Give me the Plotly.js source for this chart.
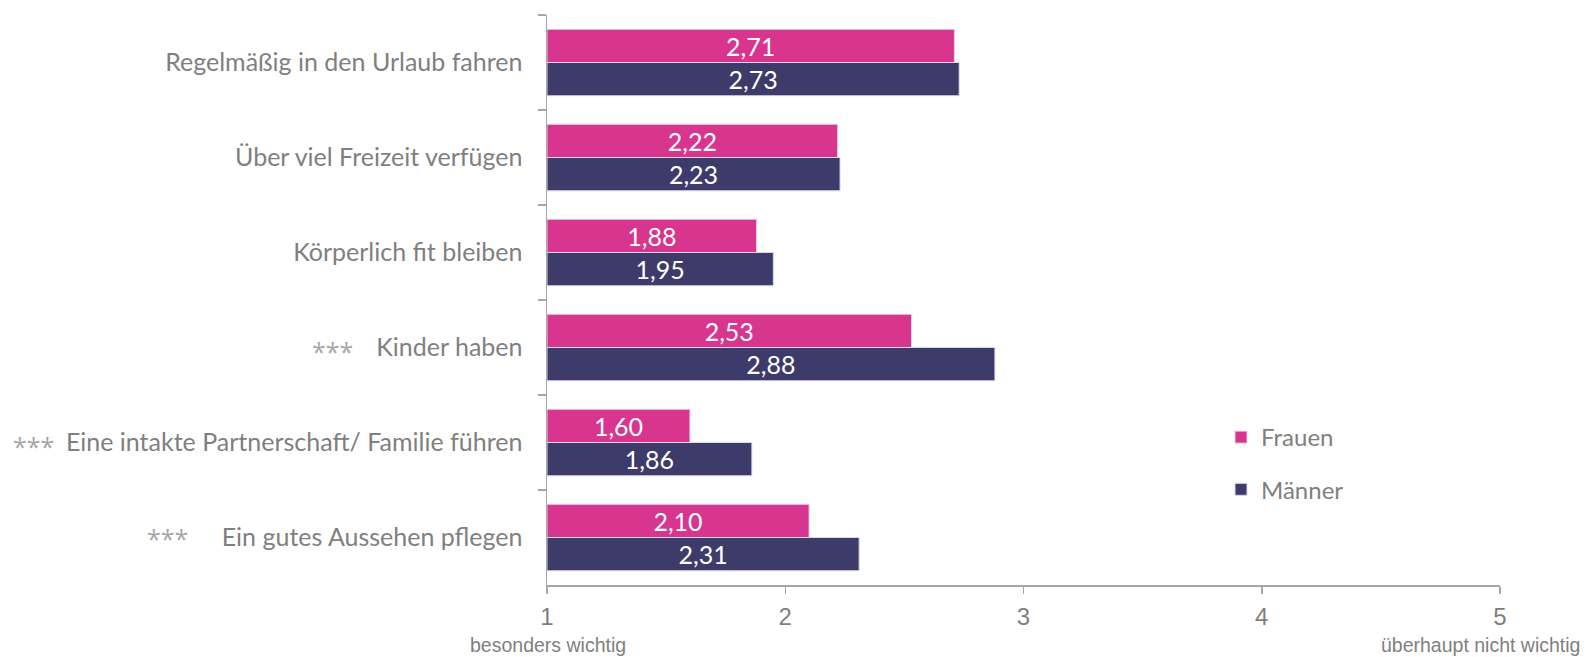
<!DOCTYPE html>
<html>
<head>
<meta charset="utf-8">
<script src="https://cdn.plot.ly/plotly-3.0.1.min.js"></script>
<style>html,body{margin:0;padding:0;background:#fff;}#chart{width:1588px;height:657px;}</style>
</head>
<body>
<div id="chart"></div>
<script>
// ---- data ----
const categories = [
  "Regelmäßig in den Urlaub fahren",
  "Über viel Freizeit verfügen",
  "Körperlich fit bleiben",
  "Kinder haben",
  "Eine intakte Partnerschaft/ Familie führen",
  "Ein gutes Aussehen pflegen"
];
const frauen = [2.71, 2.22, 1.88, 2.53, 1.60, 2.10];
const maenner = [2.73, 2.23, 1.95, 2.88, 1.86, 2.31];
const seriesNames = ["Frauen", "Männer"];
const xTickVals = [1, 2, 3, 4, 5];
const xEndLabels = ["besonders wichtig", "überhaupt nicht wichtig"];
const starCategories = ["Kinder haben", "Eine intakte Partnerschaft/ Familie führen", "Ein gutes Aussehen pflegen"];
const starText = "***";

// ---- layout constants (pixels) ----
const W = 1588, H = 657;
const L = 547, R = 1500, T = 15, B = 585;
const pw = R - L, ph = B - T;
const px = v => (v - L) / pw;
const py = v => (B - v) / ph;
const baseVal = 1;
const labelFont = "Lato, 'Open Sans', sans-serif";
const narrowFont = "'Liberation Sans Narrow', 'Arial Narrow', 'Liberation Sans', Arial, sans-serif";
const fmt = v => v.toFixed(2).replace(".", ",");

function barTrace(name, vals, color, group) {
  return {
    type: "bar", orientation: "h", name: name,
    y: categories, x: vals.map(v => v - baseVal), base: baseVal,
    text: vals.map(fmt), textposition: "inside", insidetextanchor: "middle",
    textangle: 0, constraintext: "none",
    textfont: {family: labelFont, size: 25, color: "#ffffff"},
    marker: {color: color, line: {color: "#d9d9e8", width: 1}},
    legendgroup: group, hoverinfo: "skip"
  };
}

const data = [
  barTrace(seriesNames[0], frauen, "#d8358e", "g1"),
  barTrace(seriesNames[1], maenner, "#3d3b6a", "g2")
];

const starX = [332, 33, 167];
const starShift = [-3, -3, 0];
const annotations = starCategories.map((c, i) => ({
  xref: "paper", yref: "y", x: px(starX[i]), y: c, yshift: starShift[i],
  text: starText, showarrow: false, xanchor: "center", yanchor: "middle",
  font: {family: "'Open Sans', sans-serif", size: 25, color: "#a6a6a6"}
}));
annotations.push({
  xref: "paper", yref: "paper", x: px(548), y: py(645),
  text: xEndLabels[0], showarrow: false, xanchor: "center", yanchor: "middle",
  font: {family: narrowFont, size: 19.5, color: "#7f7f7f"}
});
annotations.push({
  xref: "paper", yref: "paper", x: px(1582), y: py(645),
  text: xEndLabels[1], showarrow: false, xanchor: "right", yanchor: "middle",
  font: {family: narrowFont, size: 19.5, color: "#7f7f7f"}
});

const layout = {
  width: W, height: H,
  margin: {l: L, r: W - R, t: T, b: H - B, pad: 0},
  paper_bgcolor: "#ffffff", plot_bgcolor: "#ffffff",
  barmode: "group", bargap: 0.3, bargroupgap: 0,
  showlegend: true,
  legend: {
    x: px(1221), y: py(415), xanchor: "left", yanchor: "top",
    traceorder: "grouped", tracegroupgap: 18,
    font: {family: labelFont, size: 24, color: "#7f7f7f"},
    bgcolor: "rgba(0,0,0,0)", itemwidth: 30
  },
  xaxis: {
    range: [1, 5], tickvals: xTickVals, ticktext: xTickVals.map(String),
    showgrid: false, zeroline: false, showline: true, linecolor: "#a6a6a6", linewidth: 1.5,
    ticks: "outside", ticklen: 7, tickcolor: "#a6a6a6", tickwidth: 1.5,
    ticklabelstandoff: 3,
    tickfont: {family: narrowFont, size: 24, color: "#7f7f7f"},
    fixedrange: true
  },
  yaxis: {
    type: "category", autorange: false, range: [categories.length - 0.5, -0.5],
    showgrid: false, zeroline: false, showline: true, linecolor: "#a6a6a6", linewidth: 1.5,
    ticks: "outside", tickson: "boundaries", ticklen: 8, tickcolor: "#a6a6a6", tickwidth: 1.5,
    ticklabelstandoff: 18,
    tickfont: {family: labelFont, size: 25, color: "#7f7f7f"},
    fixedrange: true
  },
  annotations: annotations
};

Plotly.newPlot("chart", data, layout, {displayModeBar: false, staticPlot: true});
</script>
</body>
</html>
